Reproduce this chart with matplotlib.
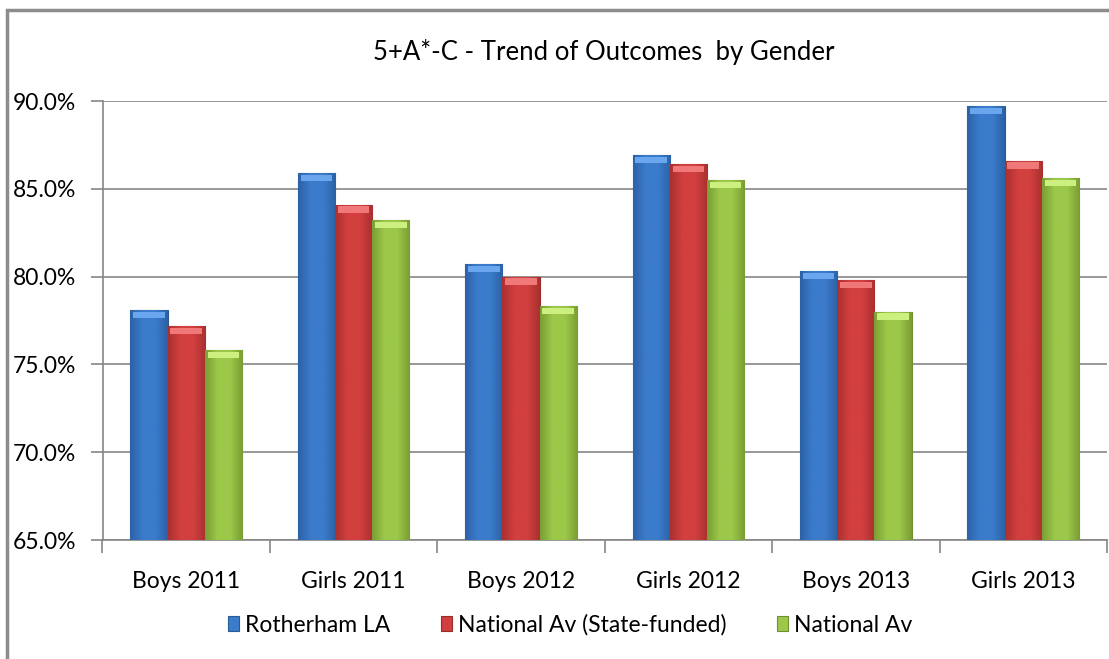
import matplotlib
matplotlib.use('Agg')
import matplotlib.pyplot as plt
import numpy as np
from matplotlib.patches import Rectangle
from matplotlib.colors import LinearSegmentedColormap
from matplotlib.ticker import FuncFormatter

categories = ['Boys 2011', 'Girls 2011', 'Boys 2012', 'Girls 2012', 'Boys 2013', 'Girls 2013']
rotherham = [78.1, 85.9, 80.7, 86.9, 80.3, 89.7]
national_state = [77.2, 84.1, 80.0, 86.4, 79.8, 86.6]
national = [75.8, 83.2, 78.3, 85.5, 78.0, 85.6]
series_names = ['Rotherham LA', 'National Av (State-funded)', 'National Av']

colors = ['#3b7bcb', '#d23f3f', '#9cc84a']
darks = ['#2c62a6', '#a93030', '#7a9e33']
edges = ['#2a5a96', '#9a2b2b', '#6f9030']
caps = ['#6aa6ee', '#f07878', '#cdef80']

plt.rcParams['font.family'] = ['Lato', 'DejaVu Sans']

fig = plt.figure(figsize=(11.09, 6.59), dpi=100)
# chart frame, cropped at right and bottom like the source
fig.patches.append(Rectangle((7 / 1109, -0.1), 1.2, 1 - 10 / 659 + 0.1,
                             transform=fig.transFigure, fill=False,
                             edgecolor='#8c8c8c', linewidth=2.5))

ax = fig.add_axes([102.5 / 1109, 119 / 659, 1004.5 / 1109, 439 / 659])

x = np.arange(len(categories))
w = 1 / 4.5
all_series = [rotherham, national_state, national]
handles = []
for i, vals in enumerate(all_series):
    pos = x + (i - 1) * w
    b = ax.bar(pos, np.array(vals) - 65, w, bottom=65, color=colors[i],
               edgecolor=edges[i], linewidth=0.8, zorder=3, label=series_names[i])
    # horizontal shading inside each bar
    cmap = LinearSegmentedColormap.from_list('g', [darks[i], colors[i], colors[i], darks[i]])
    grad = np.linspace(0, 1, 64).reshape(1, -1)
    for p in b.patches:
        x0, y0 = p.get_x(), p.get_y()
        im = ax.imshow(grad, cmap=cmap, aspect='auto', zorder=3.5,
                       extent=(x0, x0 + p.get_width(), y0, y0 + p.get_height()))
        im.set_clip_path(p)
    # bevelled top
    ax.bar(pos, 0.35, w * 0.85, bottom=np.array(vals) - 0.45, color=caps[i],
           linewidth=0, zorder=4)
    handles.append(b)

ax.set_ylim(65, 90)
ax.set_xlim(-0.5, len(categories) - 0.5)
ax.set_yticks(np.arange(65, 90.1, 5))
ax.yaxis.set_major_formatter(FuncFormatter(lambda v, p: f'{v:.1f}%'))
ax.grid(axis='y', color='#868686', linewidth=1.2, zorder=0)
ax.set_axisbelow(True)

ax.set_xticks(x)
ax.set_xticklabels(categories)
ax.set_xticks(np.arange(-0.5, len(categories)), minor=True)
ax.tick_params(axis='x', which='major', length=0, pad=22, labelsize=16.5)
ax.tick_params(axis='x', which='minor', length=9, width=1.2, color='#868686')
ax.tick_params(axis='y', length=9, width=1.2, color='#868686', labelsize=16.5, pad=10)

for s in ['top', 'right']:
    ax.spines[s].set_visible(False)
for s in ['left', 'bottom']:
    ax.spines[s].set_color('#868686')
    ax.spines[s].set_linewidth(1.2)

# title is centred on the full (cropped) chart frame
fig.text(604 / 1109, 1 - 52 / 659, '5+A*-C - Trend of Outcomes  by Gender',
         ha='center', va='center', fontsize=18.5)

fig.legend(handles=handles, loc='center', bbox_to_anchor=(570 / 1109, 1 - 625 / 659),
           ncol=3, frameon=False, fontsize=16.5, handlelength=0.5, handleheight=0.6,
           handletextpad=0.25, columnspacing=2.2)

fig.savefig('out.png', dpi=100)
